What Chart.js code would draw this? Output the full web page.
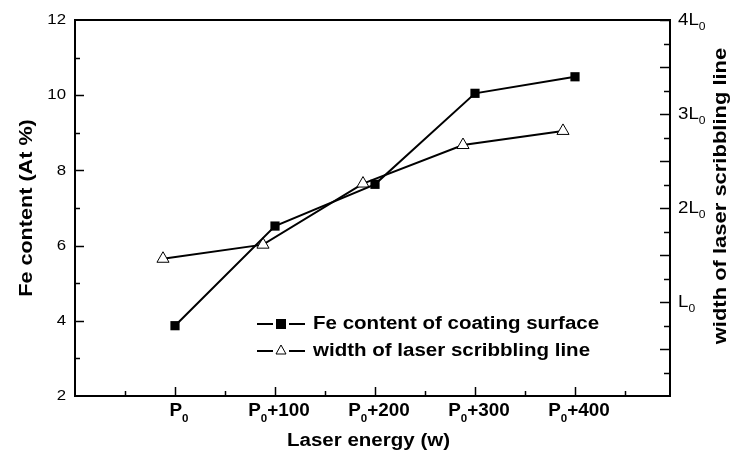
<!DOCTYPE html>
<html lang="en">
<head>
    <meta charset="UTF-8">
    <title>Fe content and scribbling line width</title>
    <script src="https://cdn.jsdelivr.net/npm/chart.js"></script>
    <style>
        body {
            margin: 0;
            background: #fff;
        }
        #wrap {
            width: 731px;
            height: 455px;
        }
    </style>
</head>
<body>
    <div id="wrap">
        <canvas id="feChart" width="731" height="455"></canvas>
    </div>

    <script>
        // data
        const categories = ['P₀', 'P₀+100', 'P₀+200', 'P₀+300', 'P₀+400'];
        const categoryX = [1, 2, 3, 4, 5];
        const feContent = [3.87, 6.52, 7.63, 10.05, 10.49];
        const widthX = [0.88, 1.88, 2.88, 3.88, 4.88];
        const lineWidth = [1.46, 1.61, 2.26, 2.67, 2.82];   // in units of L0
        const leftTicks = [2, 4, 6, 8, 10, 12];
        const rightTicks = [1, 2, 3, 4];
        const rightLabels = ['L₀', '2L₀', '3L₀', '4L₀'];
        const legendLabels = ['Fe content of coating surface', 'width of laser scribbling line'];

        const FONT = '"Liberation Sans", Arial, sans-serif';
        const SX = 1.14;   // text in the figure is stretched a bit wide

        // draw a string, '₀' becomes a small lowered 0
        function richText(ctx, str, x, y, size, weight, align, sx) {
            const runs = [];
            for (const ch of str) {
                const sub = ch === '₀';
                const last = runs[runs.length - 1];
                if (last && last.sub === sub) last.t += sub ? '0' : ch;
                else runs.push({ t: sub ? '0' : ch, sub });
            }
            let total = 0;
            runs.forEach(r => {
                ctx.font = weight + ' ' + (r.sub ? Math.round(size * 0.62) : size) + 'px ' + FONT;
                r.w = ctx.measureText(r.t).width;
                total += r.w;
            });
            ctx.save();
            let x0 = x;
            if (align === 'center') x0 = x - total * sx / 2;
            if (align === 'right') x0 = x - total * sx;
            ctx.translate(x0, y);
            ctx.scale(sx, 1);
            ctx.textBaseline = 'middle';
            ctx.textAlign = 'left';
            ctx.fillStyle = '#000';
            let cx = 0;
            runs.forEach(r => {
                ctx.font = weight + ' ' + (r.sub ? Math.round(size * 0.62) : size) + 'px ' + FONT;
                ctx.fillText(r.t, cx, r.sub ? size * 0.42 : 0);
                cx += r.w;
            });
            ctx.restore();
        }

        function rotatedText(ctx, str, x, y, size, sx) {
            ctx.save();
            ctx.translate(x, y);
            ctx.rotate(-Math.PI / 2);
            richText(ctx, str, 0, 0, size, 'bold', 'center', sx);
            ctx.restore();
        }

        function line(ctx, x1, y1, x2, y2, w) {
            ctx.beginPath();
            ctx.moveTo(x1, y1);
            ctx.lineTo(x2, y2);
            ctx.lineWidth = w;
            ctx.strokeStyle = '#000';
            ctx.stroke();
        }

        const decorations = {
            id: 'decorations',
            afterDraw(chart) {
                const ctx = chart.ctx;
                const a = chart.chartArea;
                const x = chart.scales.x;
                const y = chart.scales.y;
                const y2 = chart.scales.y2;

                // top frame line
                line(ctx, a.left - 1, a.top, a.right + 1, a.top, 2);

                // inward ticks, bottom
                for (let v = 0.5; v < x.max; v += 0.5) {
                    const px = Math.round(x.getPixelForValue(v)) + 0.5;
                    const len = Number.isInteger(v) ? 9 : 5;
                    line(ctx, px, a.bottom, px, a.bottom - len, 1.5);
                }
                // inward ticks, left
                for (let v = y.min + 1; v < y.max; v += 1) {
                    const py = Math.round(y.getPixelForValue(v)) + 0.5;
                    const len = v % 2 === 0 ? 9 : 5;
                    line(ctx, a.left, py, a.left + len, py, 1.5);
                }
                // inward ticks, right
                for (let v = 0.25; v <= y2.max; v += 0.25) {
                    const py = Math.round(y2.getPixelForValue(v)) + 0.5;
                    const len = (v * 2) % 1 === 0 ? 10 : 6;
                    line(ctx, a.right, py, a.right - len, py, 1.5);
                }

                // tick labels
                leftTicks.forEach(v => {
                    richText(ctx, String(v), a.left - 9, y.getPixelForValue(v), 15, 'normal', 'right', 1.12);
                });
                rightTicks.forEach((v, i) => {
                    richText(ctx, rightLabels[i], a.right + 8, y2.getPixelForValue(v), 17, 'normal', 'left', 1.1);
                });
                categories.forEach((c, i) => {
                    richText(ctx, c, x.getPixelForValue(categoryX[i]) + 4, a.bottom + 15, 18, 'bold', 'center', 1.05);
                });

                // axis titles
                richText(ctx, 'Laser energy (w)', (a.left + a.right) / 2 - 4, 441, 18, 'bold', 'center', SX);
                rotatedText(ctx, 'Fe content (At %)', 27, (a.top + a.bottom) / 2, 18, 1.2);
                rotatedText(ctx, 'width of laser scribbling line', 721, 196, 18, 1.22);

                // legend inside the plot
                const rows = [324, 351];
                rows.forEach((ry, i) => {
                    line(ctx, 257, ry, 273, ry, 2);
                    line(ctx, 289, ry, 305, ry, 2);
                    if (i === 0) {
                        ctx.fillStyle = '#000';
                        ctx.fillRect(276, ry - 5, 10, 10);
                    } else {
                        ctx.beginPath();
                        ctx.moveTo(281, ry - 6);
                        ctx.lineTo(286, ry + 3);
                        ctx.lineTo(276, ry + 3);
                        ctx.closePath();
                        ctx.fillStyle = '#fff';
                        ctx.fill();
                        ctx.lineWidth = 1;
                        ctx.strokeStyle = '#000';
                        ctx.stroke();
                    }
                    richText(ctx, legendLabels[i], 313, ry, 18, 'bold', 'left', SX);
                });
            }
        };

        const axisBorder = { display: true, color: '#000', width: 2 };

        new Chart(document.getElementById('feChart'), {
            type: 'line',
            data: {
                datasets: [
                    {
                        label: legendLabels[0],
                        data: feContent.map((v, i) => ({ x: categoryX[i], y: v })),
                        yAxisID: 'y',
                        borderColor: '#000',
                        borderWidth: 2,
                        pointStyle: 'rect',
                        pointRadius: 6.5,
                        pointBackgroundColor: '#000',
                        pointBorderColor: '#000',
                        pointBorderWidth: 0,
                        tension: 0
                    },
                    {
                        label: legendLabels[1],
                        data: lineWidth.map((v, i) => ({ x: widthX[i], y: v })),
                        yAxisID: 'y2',
                        borderColor: '#000',
                        borderWidth: 2,
                        pointStyle: 'triangle',
                        pointRadius: 7,
                        pointBackgroundColor: '#fff',
                        pointBorderColor: '#000',
                        pointBorderWidth: 1,
                        tension: 0
                    }
                ]
            },
            options: {
                responsive: false,
                animation: false,
                layout: { padding: { top: 20, left: 0, right: 0, bottom: 0 } },
                plugins: {
                    legend: { display: false },
                    tooltip: { enabled: false }
                },
                scales: {
                    x: {
                        type: 'linear',
                        min: 0,
                        max: 5.95,
                        ticks: { display: false },
                        grid: { display: false },
                        border: axisBorder,
                        afterFit: s => { s.height = 59; }
                    },
                    y: {
                        position: 'left',
                        min: 2,
                        max: 12,
                        ticks: { display: false },
                        grid: { display: false },
                        border: axisBorder,
                        afterFit: s => { s.width = 75; }
                    },
                    y2: {
                        position: 'right',
                        min: 0,
                        max: 4,
                        ticks: { display: false },
                        grid: { display: false },
                        border: axisBorder,
                        afterFit: s => { s.width = 61; }
                    }
                }
            },
            plugins: [decorations]
        });
    </script>
</body>
</html>
